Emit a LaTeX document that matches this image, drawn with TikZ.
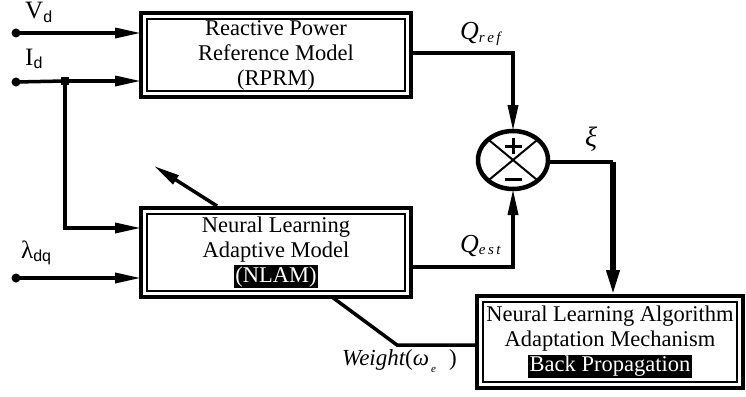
\documentclass[tikz,border=0pt]{standalone}
\usepackage{fontspec}
\setmainfont{Liberation Serif}
\newfontfamily\subsf{Liberation Sans}
\usetikzlibrary{arrows.meta,shapes.geometric,calc}
\setlength\fboxsep{1.5pt}
\newcommand{\hl}[1]{\colorbox{black}{\color{white}#1}}
\newcommand{\sbs}[1]{\raisebox{-0.3ex}{\subsf\fontsize{16}{16}\selectfont #1}}
\newcommand{\isub}[1]{\raisebox{-0.25ex}{\fontsize{15}{15}\selectfont\itshape #1}}
\begin{document}
\begin{tikzpicture}[x=1pt,y=-1pt,
  blk/.style={draw, rectangle, line width=4pt, inner sep=0pt, outer sep=0pt, align=center,
    font=\fontsize{22.5}{25}\selectfont},
  conn/.style={line width=3.5pt},
  arr/.style={line width=3.5pt, -{Triangle[length=26pt,width=10pt]}},
  lbl/.style={inner sep=0pt, anchor=base west, font=\fontsize{25}{27}\selectfont},
  mlbl/.style={inner sep=0pt, anchor=base west, font=\fontsize{26}{28}\selectfont\itshape}]
\useasboundingbox (0,0) rectangle (746,396);

% blocks
\node[blk, minimum width=270pt, minimum height=84pt] (rprm) at (276,55)
  {Reactive Power\\Reference Model\\(RPRM)};
\node[blk, minimum width=270pt, minimum height=89pt] (nlam) at (276,252.5)
  {Neural Learning\\Adaptive Model\\\hl{(NLAM)}};
\node[blk, minimum width=266pt, minimum height=92pt] (nlaa) at (610,342)
  {Neural Learning Algorithm\\Adaptation Mechanism\\\hl{Back Propagation}};
\foreach \b in {rprm,nlam,nlaa}
  \draw[line width=1.3pt] ($(\b.north west)+(6,6)$) rectangle ($(\b.south east)+(-6,-6)$);

% summing junction
\node[draw, ellipse, line width=4.5pt, minimum width=70pt, minimum height=58pt, inner sep=0pt, outer sep=0pt] (sum) at (513,160) {};
\draw[line width=2pt] (sum.north west) -- (sum.south east);
\draw[line width=2pt] (sum.north east) -- (sum.south west);
\draw[line width=3pt] ($(sum.center)+(-8.5,-14)$) -- ($(sum.center)+(8.5,-14)$);
\draw[line width=3pt] ($(sum.center)+(0,-22)$) -- ($(sum.center)+(0,-6)$);
\draw[line width=3pt] ($(sum.center)+(-8.5,19)$) -- ($(sum.center)+(8.5,19)$);

% input points
\coordinate (vd) at (16,33);
\coordinate (id) at (16,82);
\coordinate (jn) at (65,81);
\coordinate (ld) at (16,278);
\coordinate (tipd) at (154,166);
\coordinate (qr) at (513,53);
\coordinate (qe) at (513,267);
\coordinate (xi) at (613,162);
\coordinate (wk) at (397,345);

\fill (vd) circle (4.5pt);
\fill (id) circle (4.5pt);
\fill (ld) circle (4.5pt);
\fill ($(jn)+(-4,-4)$) rectangle ($(jn)+(4,4)$);

% connectors
\draw[arr] (vd) -- (vd -| rprm.west);
\draw[conn] (id) -- (jn);
\draw[arr] (jn) -- (jn -| rprm.west);
\draw[arr] (jn) -- (jn |- 0,228) -- (nlam.west |- 0,228);
\draw[arr] (ld) -- (ld -| nlam.west);
\draw[arr] (217,206) -- (tipd);
\draw[arr] (qr -| rprm.east) -- (qr) -- (sum.north);
\draw[arr] (qe -| nlam.east) -- (qe) -- (sum.south);
\draw[conn] (sum.east |- xi) -- (xi);
\draw[line width=6pt, -{Triangle[length=26pt,width=12pt]}] (xi) -- (xi |- nlaa.north);
\draw[conn] (332,297) -- (wk) -- (wk -| nlaa.west);

% labels
\node[lbl] at (25,19) {V\sbs{d}};
\node[lbl] at (25,65) {I\sbs{d}};
\node[lbl] at (21,258) {λ\sbs{dq}};
\node[mlbl] at (460,40) {Q\isub{r\,e\,f}};
\node[mlbl] at (460,252) {Q\isub{e\,s\,t}};
\node[mlbl, font=\fontsize{28}{30}\selectfont\itshape] at (585,146) {ξ};
\node[mlbl, font=\fontsize{23}{26}\selectfont\itshape] at (342,365)
  {Weight\upshape(\itshape ω\hspace{2pt}\raisebox{-0.7ex}{\fontsize{11}{11}\selectfont e}\hspace{13pt}\upshape)};
\end{tikzpicture}
\end{document}
